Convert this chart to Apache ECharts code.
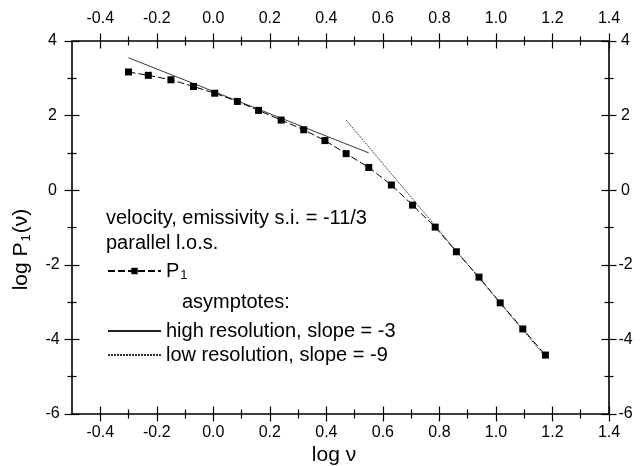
<!DOCTYPE html>
<html>
<head>
<meta charset="utf-8">
<script src="https://cdn.jsdelivr.net/npm/echarts@6/dist/echarts.min.js"></script>
<style>
html,body{margin:0;padding:0;background:#fff;}
#chart{width:641px;height:466px;}
</style>
</head>
<body>
<div id="chart"></div>
<script>
// ---- data ----
const logNu = [-0.30, -0.23, -0.15, -0.07, 0.005, 0.085, 0.16, 0.24, 0.32, 0.395,
               0.47, 0.55, 0.63, 0.705, 0.785, 0.86, 0.94, 1.015, 1.095, 1.175];
const logP1 = [3.17, 3.08, 2.96, 2.78, 2.60, 2.38, 2.14, 1.88, 1.62, 1.33,
               0.98, 0.61, 0.14, -0.40, -0.99, -1.65, -2.33, -3.02, -3.72, -4.42];
const highResX = [-0.30, 0.55];
const highResY = [3.55, 1.00];
const lowResX = [0.47, 1.175];
const lowResY = [1.88, -4.465];
const xMajorTicks = [-0.4, -0.2, 0.0, 0.2, 0.4, 0.6, 0.8, 1.0, 1.2, 1.4];
const xMinorTicks = [-0.3, -0.1, 0.1, 0.3, 0.5, 0.7, 0.9, 1.1, 1.3];
const yMajorTicks = [-6, -4, -2, 0, 2, 4];
const yMinorTicks = [-5, -3, -1, 1, 3];
const seriesNames = ['P1', 'high resolution, slope = -3', 'low resolution, slope = -9'];
const noteLines = ['velocity, emissivity s.i. = -11/3', 'parallel l.o.s.'];
const asymptoteTitle = 'asymptotes:';

const FONT = 'Liberation Sans, Arial, Helvetica, sans-serif';
const pair = (xs, ys) => xs.map((x, i) => [x, ys[i]]);

const MAJ = 7.5, MIN = 4.5;
const labelStyle = { color: '#000', fontFamily: FONT, fontSize: 16 };

function xAxisPair(position, showLabels, name) {
  const major = {
    type: 'value', position: position, min: -0.5, max: 1.4, offset: -MAJ,
    axisLine: { show: false, onZero: false },
    axisTick: { show: true, length: 2 * MAJ, customValues: xMajorTicks, lineStyle: { color: '#000', width: 1.2 } },
    axisLabel: Object.assign({ show: showLabels, customValues: xMajorTicks,
      margin: position === 'bottom' ? 18.5 : 21.5,
      formatter: v => v.toFixed(1) }, labelStyle),
    splitLine: { show: false }
  };
  const minor = {
    type: 'value', position: position, min: -0.5, max: 1.4, offset: -MIN,
    axisLine: { show: false, onZero: false },
    axisTick: { show: true, length: 2 * MIN, customValues: xMinorTicks, lineStyle: { color: '#000', width: 1.2 } },
    axisLabel: { show: false },
    splitLine: { show: false }
  };
  if (name) {
    minor.name = name;
    minor.nameLocation = 'middle';
    minor.nameGap = 34.5;
    minor.nameTextStyle = { color: '#000', fontFamily: FONT, fontSize: 21, lineHeight: 22, padding: [0, 13, 0, 0] };
  }
  return [major, minor];
}

function yAxisPair(position, name) {
  const major = {
    type: 'value', position: position, min: -6, max: 4, offset: -MAJ,
    axisLine: { show: false, onZero: false },
    axisTick: { show: true, length: 2 * MAJ, customValues: yMajorTicks, lineStyle: { color: '#000', width: 1.2 } },
    axisLabel: Object.assign({ show: true, customValues: yMajorTicks, align: 'center',
      margin: position === 'left' ? 27 : 24,
      formatter: v => String(v) }, labelStyle),
    splitLine: { show: false }
  };
  const minor = {
    type: 'value', position: position, min: -6, max: 4, offset: -MIN,
    axisLine: { show: false, onZero: false },
    axisTick: { show: true, length: 2 * MIN, customValues: yMinorTicks, lineStyle: { color: '#000', width: 1.2 } },
    axisLabel: { show: false },
    splitLine: { show: false }
  };
  if (name) {
    minor.name = name;
    minor.nameLocation = 'middle';
    minor.nameRotate = 90;
    minor.nameGap = 43.5;
    minor.nameTextStyle = {
      color: '#000', fontFamily: FONT, fontSize: 21, padding: [0, 44, 0, 0],
      rich: {
        a: { fontFamily: FONT, fontSize: 21, color: '#000' },
        s: { fontFamily: FONT, fontSize: 13, color: '#000', verticalAlign: 'bottom', padding: [10, 1, 0, 1] }
      }
    };
  }
  return [major, minor];
}

const chart = echarts.init(document.getElementById('chart'), null, { renderer: 'canvas' });

const option = {
  backgroundColor: '#fff',
  animation: false,
  textStyle: { fontFamily: FONT, color: '#000' },
  title: [
    {
      text: noteLines.join('\n'), left: 106, top: 205.5, padding: 0,
      textStyle: { fontFamily: FONT, fontSize: 20, fontWeight: 'normal', color: '#000', lineHeight: 25 }
    },
    {
      text: asymptoteTitle, left: 182, top: 289.5, padding: 0,
      textStyle: { fontFamily: FONT, fontSize: 20, fontWeight: 'normal', color: '#000', lineHeight: 25 }
    }
  ],
  legend: [
    {
      data: [seriesNames[0]], left: 107, top: 260, orient: 'vertical', padding: 0,
      itemWidth: 53, itemHeight: 8,
      formatter: () => '{p|P}{s|1}',
      textStyle: {
        color: '#000', fontFamily: FONT, fontSize: 20, lineHeight: 22,
        rich: {
          p: { fontFamily: FONT, fontSize: 20, color: '#000' },
          s: { fontFamily: FONT, fontSize: 13, color: '#000', verticalAlign: 'bottom', padding: [14, 0, 0, 1] }
        }
      }
    },
    {
      data: [
        { name: seriesNames[1], itemStyle: { opacity: 0, color: 'rgba(0,0,0,0)' } },
        { name: seriesNames[2], itemStyle: { opacity: 0, color: 'rgba(0,0,0,0)' } }
      ],
      left: 107, top: 320, orient: 'vertical', padding: 0,
      itemWidth: 53, itemHeight: 8, itemGap: 2,
      textStyle: { color: '#000', fontFamily: FONT, fontSize: 20, lineHeight: 22 }
    }
  ],
  grid: {
    left: 72, right: 32, top: 41, bottom: 52,
    containLabel: false, outerBoundsMode: 'none',
    show: true, borderColor: '#000', borderWidth: 1.6, backgroundColor: 'transparent'
  },
  xAxis: [].concat(xAxisPair('bottom', true, 'log ν'), xAxisPair('top', true, null)),
  yAxis: [].concat(yAxisPair('left', '{a|log P}{s|1}{a|(ν)}'), yAxisPair('right', null)),
  series: [
    {
      name: seriesNames[0], type: 'line', xAxisIndex: 0, yAxisIndex: 0,
      data: pair(logNu, logP1),
      symbol: 'rect', symbolSize: 7, showSymbol: true,
      itemStyle: { color: '#000' },
      lineStyle: { color: '#000', width: 1, type: [7, 3] },
      z: 3
    },
    {
      name: seriesNames[1], type: 'line', xAxisIndex: 0, yAxisIndex: 0,
      data: pair(highResX, highResY), symbol: 'none', showSymbol: false,
      itemStyle: { color: '#222' },
      lineStyle: { color: '#222', width: 0.9, type: 'solid' },
      z: 2
    },
    {
      name: seriesNames[2], type: 'line', xAxisIndex: 0, yAxisIndex: 0,
      data: pair(lowResX, lowResY), symbol: 'none', showSymbol: false,
      itemStyle: { color: '#333' },
      lineStyle: { color: '#333', width: 0.9, type: [2, 1] },
      z: 2
    }
  ]
};
chart.setOption(option);
</script>
</body>
</html>
